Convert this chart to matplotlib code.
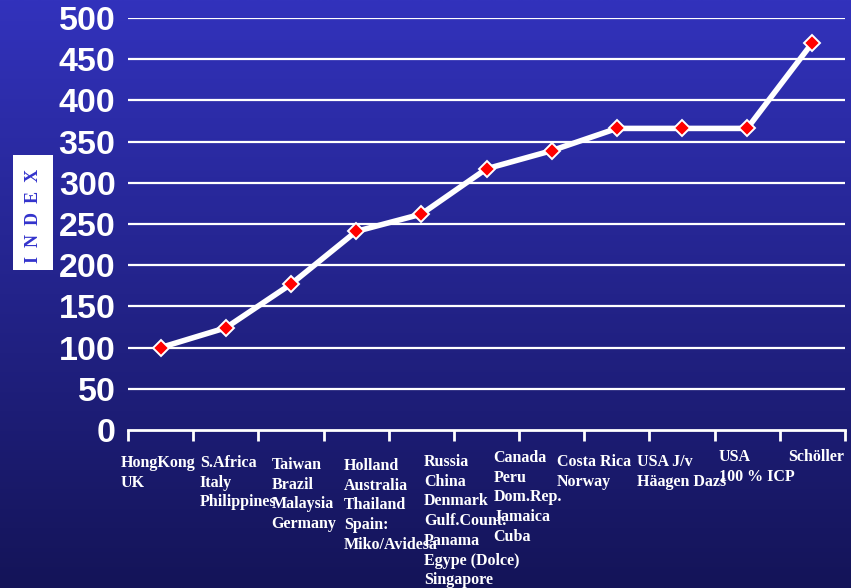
import matplotlib
matplotlib.use("Agg")
import matplotlib.pyplot as plt
import matplotlib.transforms as mtrans
import numpy as np
from matplotlib.patches import Rectangle

categories = [
    "HongKong\nUK",
    "S.Africa\nItaly\nPhilippines",
    "Taiwan\nBrazil\nMalaysia\nGermany",
    "Holland\nAustralia\nThailand\nSpain:\nMiko/Avidesa",
    "Russia\nChina\nDenmark\nGulf.Count.\nPanama\nEgype (Dolce)\nSingapore",
    "Canada\nPeru\nDom.Rep.\nJamaica\nCuba",
    "Costa Rica\nNorway",
    "USA J/v\nHäagen Dazs",
    "USA\n100 % ICP",
    "Schöller",
]
point_values = [100, 124, 177, 241, 262, 317, 339, 366, 366, 366, 470]
y_ticks = [0, 50, 100, 150, 200, 250, 300, 350, 400, 450, 500]

# layout: label left edges (data units) and top offsets (pixels below axis)
label_x = [-0.61, 0.60, 1.70, 2.81, 4.04, 5.11, 6.08, 7.31, 8.56, 9.63]
label_dy = [25, 25, 27, 28, 24, 20, 24, 24, 19, 19]

W, H = 851, 588
fig = plt.figure(figsize=(W / 100, H / 100), dpi=100)

# background gradient
bg = fig.add_axes([0, 0, 1, 1])
top = np.array([50, 50, 188]) / 255
bot = np.array([20, 20, 88]) / 255
t = np.linspace(0, 1, 256)[:, None]
grad = top[None, :] * (1 - t) + bot[None, :] * t
img = np.repeat(grad[:, None, :], 2, axis=1)
bg.imshow(img, aspect="auto", extent=[0, 1, 0, 1], origin="upper")
bg.set_axis_off()

ax = fig.add_axes([128 / W, 1 - 430 / H, (845 - 128) / W, (430 - 18) / H])
ax.patch.set_alpha(0)
x = np.arange(len(point_values))
ax.set_xlim(-0.5, len(point_values) - 0.5)
ax.set_ylim(0, 500)

for yv in y_ticks[1:]:
    ax.axhline(yv, color="white", lw=1.6, zorder=1)

ax.plot(x, point_values, color="white", lw=4, zorder=3, solid_joinstyle="round")
ax.plot(x, point_values, ls="none", marker="D", ms=8.5, mfc="#ff0000",
        mec="white", mew=1.4, zorder=4)

for s in ["top", "right", "left"]:
    ax.spines[s].set_visible(False)
ax.spines["bottom"].set_color("white")
ax.spines["bottom"].set_linewidth(2)

ax.set_yticks(y_ticks)
ax.set_yticklabels([str(v) for v in y_ticks], fontsize=24.5, fontweight="bold",
                   color="white", family="Liberation Sans")
ax.tick_params(axis="y", length=0, pad=9)

ax.set_xticks(np.arange(-0.5, len(point_values), 1.0))
ax.set_xticklabels([])
ax.tick_params(axis="x", length=8, width=2, color="white", direction="out")

trans = ax.get_xaxis_transform()
for lx, dy, lab in zip(label_x, label_dy, categories):
    tr = trans + mtrans.ScaledTranslation(0, -dy / 100, fig.dpi_scale_trans)
    ax.text(lx, 0, lab, transform=tr, ha="left", va="top", color="white",
            fontsize=11.5, fontweight="bold", family="Liberation Serif",
            linespacing=1.31)

# INDEX label box
fig.patches.append(Rectangle((13 / W, 1 - 270 / H), 40 / W, 115 / H,
                             transform=fig.transFigure, facecolor="white",
                             edgecolor="none", zorder=5))
fig.text(33 / W, 1 - 216 / H, "I  N  D  E  X", rotation=90, ha="center",
         va="center", color="#3333cc", fontsize=13, fontweight="bold",
         family="Liberation Serif", zorder=6)

fig.savefig("out.png", dpi=100)
